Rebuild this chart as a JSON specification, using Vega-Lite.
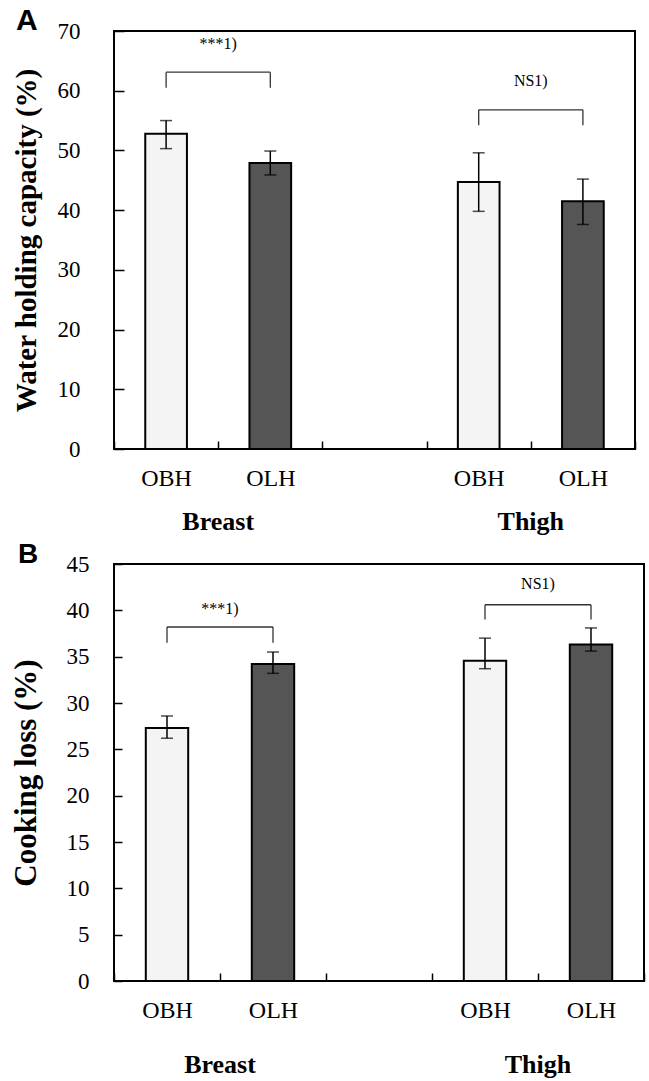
{
  "$schema": "https://vega.github.io/schema/vega-lite/v6.json",
  "padding": {"left": 9, "top": 5, "right": 5, "bottom": 0},
  "spacing": 3,
  "config": {
    "font": "Liberation Serif",
    "view": {"stroke": "black", "strokeWidth": 2},
    "axis": {"labelColor": "black", "titleColor": "black", "tickColor": "black", "grid": false, "domain": false}
  },
  "datasets": {
    "bars": [
      {"panel": "A", "cat": "B-OBH", "grp": "OBH", "mean": 52.8, "lo": 50.3, "hi": 55.0},
      {"panel": "A", "cat": "B-OLH", "grp": "OLH", "mean": 47.9, "lo": 45.9, "hi": 49.9},
      {"panel": "A", "cat": "T-OBH", "grp": "OBH", "mean": 44.7, "lo": 39.8, "hi": 49.6},
      {"panel": "A", "cat": "T-OLH", "grp": "OLH", "mean": 41.5, "lo": 37.6, "hi": 45.2},
      {"panel": "B", "cat": "B-OBH", "grp": "OBH", "mean": 27.3, "lo": 26.2, "hi": 28.6},
      {"panel": "B", "cat": "B-OLH", "grp": "OLH", "mean": 34.2, "lo": 33.2, "hi": 35.5},
      {"panel": "B", "cat": "T-OBH", "grp": "OBH", "mean": 34.55, "lo": 33.7, "hi": 37.0},
      {"panel": "B", "cat": "T-OLH", "grp": "OLH", "mean": 36.3, "lo": 35.6, "hi": 38.1}
    ],
    "brackets": [
      {"panel": "A", "from": "B-OBH", "to": "B-OLH", "top": 63.1, "bottom": 60.5},
      {"panel": "A", "from": "T-OBH", "to": "T-OLH", "top": 56.8, "bottom": 54.2},
      {"panel": "B", "from": "B-OBH", "to": "B-OLH", "top": 38.2, "bottom": 36.5},
      {"panel": "B", "from": "T-OBH", "to": "T-OLH", "top": 40.6, "bottom": 39.0}
    ],
    "notes": [
      {"panel": "A", "cat": "B-OLH", "y": 67.8, "label": "***1)"},
      {"panel": "A", "cat": "T-OLH", "y": 61.7, "label": "NS1)"},
      {"panel": "B", "cat": "B-OLH", "y": 40.1, "label": "***1)"},
      {"panel": "B", "cat": "T-OLH", "y": 42.8, "label": "NS1)"}
    ],
    "groups": [
      {"cat": "B-OLH", "label": "Breast"},
      {"cat": "T-OLH", "label": "Thigh"}
    ]
  },
  "vconcat": [
    {
      "title": {"text": "A", "anchor": "start", "frame": "group", "dx": -98, "offset": -16, "font": "Liberation Sans", "fontSize": 30, "fontWeight": "bold", "color": "black"},
      "width": 521,
      "height": 418,
      "layer": [
        {
          "data": {"name": "bars"},
          "transform": [{"filter": "datum.panel == 'A'"}],
          "mark": {"type": "bar", "width": {"band": 0.4}, "stroke": "black", "strokeWidth": 2},
          "encoding": {
            "x": {"field": "cat", "type": "nominal", "scale": {"domain": ["B-OBH", "B-OLH", "gap", "T-OBH", "T-OLH"], "paddingInner": 0, "paddingOuter": 0},
              "axis": {"title": null, "tickBand": "extent", "tickSize": -8, "tickWidth": 1.5, "labelFontSize": 24, "labelPadding": 25, "labelAngle": 0,
                "labelExpr": "(datum.value == 'B-OBH' || datum.value == 'T-OBH') ? 'OBH' : (datum.value == 'B-OLH' || datum.value == 'T-OLH') ? 'OLH' : ''"}},
            "y": {"field": "mean", "type": "quantitative", "title": "Water holding capacity (%)", "scale": {"domain": [0, 70], "nice": false},
              "axis": {"values": [0, 10, 20, 30, 40, 50, 60, 70], "tickSize": -10, "tickWidth": 1.5, "labelFontSize": 23, "labelPadding": 44, "titleFontSize": 29, "titleFontWeight": "bold", "titlePadding": 16}},
            "fill": {"field": "grp", "type": "nominal", "scale": {"domain": ["OBH", "OLH"], "range": ["#f4f4f4", "#555555"]}, "legend": null}
          }
        },
        {
          "data": {"name": "bars"},
          "transform": [{"filter": "datum.panel == 'A'"}],
          "mark": {"type": "rule", "color": "black", "strokeWidth": 1.5},
          "encoding": {
            "x": {"field": "cat", "type": "nominal"},
            "y": {"field": "lo", "type": "quantitative", "title": "Water holding capacity (%)"},
            "y2": {"field": "hi"}
          }
        },
        {
          "data": {"name": "bars"},
          "transform": [{"filter": "datum.panel == 'A'"}],
          "mark": {"type": "tick", "orient": "horizontal", "color": "black", "size": 12, "thickness": 1.5},
          "encoding": {
            "x": {"field": "cat", "type": "nominal"},
            "y": {"field": "lo", "type": "quantitative", "title": "Water holding capacity (%)"}
          }
        },
        {
          "data": {"name": "bars"},
          "transform": [{"filter": "datum.panel == 'A'"}],
          "mark": {"type": "tick", "orient": "horizontal", "color": "black", "size": 12, "thickness": 1.5},
          "encoding": {
            "x": {"field": "cat", "type": "nominal"},
            "y": {"field": "hi", "type": "quantitative", "title": "Water holding capacity (%)"}
          }
        },
        {
          "data": {"name": "brackets"},
          "transform": [{"filter": "datum.panel == 'A'"}],
          "mark": {"type": "rule", "color": "#333333", "strokeWidth": 1.3},
          "encoding": {
            "x": {"field": "from", "type": "nominal"},
            "x2": {"field": "to"},
            "y": {"field": "top", "type": "quantitative", "title": "Water holding capacity (%)"}
          }
        },
        {
          "data": {"name": "brackets"},
          "transform": [{"filter": "datum.panel == 'A'"}],
          "mark": {"type": "rule", "color": "#333333", "strokeWidth": 1.3},
          "encoding": {
            "x": {"field": "from", "type": "nominal"},
            "y": {"field": "bottom", "type": "quantitative", "title": "Water holding capacity (%)"},
            "y2": {"field": "top"}
          }
        },
        {
          "data": {"name": "brackets"},
          "transform": [{"filter": "datum.panel == 'A'"}],
          "mark": {"type": "rule", "color": "#333333", "strokeWidth": 1.3},
          "encoding": {
            "x": {"field": "to", "type": "nominal"},
            "y": {"field": "bottom", "type": "quantitative", "title": "Water holding capacity (%)"},
            "y2": {"field": "top"}
          }
        },
        {
          "data": {"name": "notes"},
          "transform": [{"filter": "datum.panel == 'A'"}],
          "mark": {"type": "text", "fontSize": 16, "color": "black", "baseline": "middle", "align": "center"},
          "encoding": {
            "x": {"field": "cat", "type": "nominal", "bandPosition": 0},
            "y": {"field": "y", "type": "quantitative", "title": "Water holding capacity (%)"},
            "text": {"field": "label"}
          }
        },
        {
          "data": {"name": "groups"},
          "mark": {"type": "text", "fontSize": 26, "fontWeight": "bold", "color": "black", "baseline": "middle", "align": "center"},
          "encoding": {
            "x": {"field": "cat", "type": "nominal", "bandPosition": 0},
            "y": {"datum": -12.3, "type": "quantitative", "title": "Water holding capacity (%)"},
            "text": {"field": "label"}
          }
        }
      ]
    },
    {
      "title": {"text": "B", "anchor": "start", "frame": "group", "dx": -96, "offset": -16, "font": "Liberation Sans", "fontSize": 28, "fontWeight": "bold", "color": "black"},
      "width": 530,
      "height": 417,
      "layer": [
        {
          "data": {"name": "bars"},
          "transform": [{"filter": "datum.panel == 'B'"}],
          "mark": {"type": "bar", "width": {"band": 0.4}, "stroke": "black", "strokeWidth": 2},
          "encoding": {
            "x": {"field": "cat", "type": "nominal", "scale": {"domain": ["B-OBH", "B-OLH", "gap", "T-OBH", "T-OLH"], "paddingInner": 0, "paddingOuter": 0},
              "axis": {"title": null, "tickBand": "extent", "tickSize": -8, "tickWidth": 1.5, "labelFontSize": 24, "labelPadding": 25, "labelAngle": 0,
                "labelExpr": "(datum.value == 'B-OBH' || datum.value == 'T-OBH') ? 'OBH' : (datum.value == 'B-OLH' || datum.value == 'T-OLH') ? 'OLH' : ''"}},
            "y": {"field": "mean", "type": "quantitative", "title": "Cooking loss (%)", "scale": {"domain": [0, 45], "nice": false},
              "axis": {"values": [0, 5, 10, 15, 20, 25, 30, 35, 40, 45], "tickSize": -8, "tickWidth": 1.5, "labelFontSize": 23, "labelPadding": 33, "titleFontSize": 31, "titleFontWeight": "bold", "titlePadding": 24}},
            "fill": {"field": "grp", "type": "nominal", "scale": {"domain": ["OBH", "OLH"], "range": ["#f4f4f4", "#555555"]}, "legend": null}
          }
        },
        {
          "data": {"name": "bars"},
          "transform": [{"filter": "datum.panel == 'B'"}],
          "mark": {"type": "rule", "color": "black", "strokeWidth": 1.5},
          "encoding": {
            "x": {"field": "cat", "type": "nominal"},
            "y": {"field": "lo", "type": "quantitative", "title": "Cooking loss (%)"},
            "y2": {"field": "hi"}
          }
        },
        {
          "data": {"name": "bars"},
          "transform": [{"filter": "datum.panel == 'B'"}],
          "mark": {"type": "tick", "orient": "horizontal", "color": "black", "size": 12, "thickness": 1.5},
          "encoding": {
            "x": {"field": "cat", "type": "nominal"},
            "y": {"field": "lo", "type": "quantitative", "title": "Cooking loss (%)"}
          }
        },
        {
          "data": {"name": "bars"},
          "transform": [{"filter": "datum.panel == 'B'"}],
          "mark": {"type": "tick", "orient": "horizontal", "color": "black", "size": 12, "thickness": 1.5},
          "encoding": {
            "x": {"field": "cat", "type": "nominal"},
            "y": {"field": "hi", "type": "quantitative", "title": "Cooking loss (%)"}
          }
        },
        {
          "data": {"name": "brackets"},
          "transform": [{"filter": "datum.panel == 'B'"}],
          "mark": {"type": "rule", "color": "#333333", "strokeWidth": 1.3},
          "encoding": {
            "x": {"field": "from", "type": "nominal"},
            "x2": {"field": "to"},
            "y": {"field": "top", "type": "quantitative", "title": "Cooking loss (%)"}
          }
        },
        {
          "data": {"name": "brackets"},
          "transform": [{"filter": "datum.panel == 'B'"}],
          "mark": {"type": "rule", "color": "#333333", "strokeWidth": 1.3},
          "encoding": {
            "x": {"field": "from", "type": "nominal"},
            "y": {"field": "bottom", "type": "quantitative", "title": "Cooking loss (%)"},
            "y2": {"field": "top"}
          }
        },
        {
          "data": {"name": "brackets"},
          "transform": [{"filter": "datum.panel == 'B'"}],
          "mark": {"type": "rule", "color": "#333333", "strokeWidth": 1.3},
          "encoding": {
            "x": {"field": "to", "type": "nominal"},
            "y": {"field": "bottom", "type": "quantitative", "title": "Cooking loss (%)"},
            "y2": {"field": "top"}
          }
        },
        {
          "data": {"name": "notes"},
          "transform": [{"filter": "datum.panel == 'B'"}],
          "mark": {"type": "text", "fontSize": 16, "color": "black", "baseline": "middle", "align": "center"},
          "encoding": {
            "x": {"field": "cat", "type": "nominal", "bandPosition": 0},
            "y": {"field": "y", "type": "quantitative", "title": "Cooking loss (%)"},
            "text": {"field": "label"}
          }
        },
        {
          "data": {"name": "groups"},
          "mark": {"type": "text", "fontSize": 26, "fontWeight": "bold", "color": "black", "baseline": "middle", "align": "center"},
          "encoding": {
            "x": {"field": "cat", "type": "nominal", "bandPosition": 0},
            "y": {"datum": -9.1, "type": "quantitative", "title": "Cooking loss (%)"},
            "text": {"field": "label"}
          }
        }
      ]
    }
  ]
}
